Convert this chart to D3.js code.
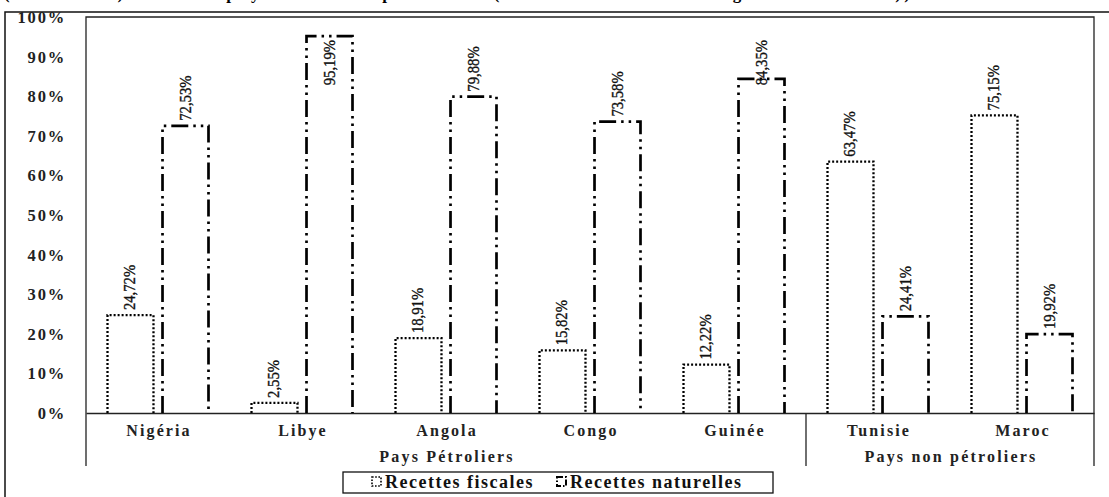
<!DOCTYPE html>
<html lang="fr">
<head>
<meta charset="utf-8">
<script src="https://cdn.jsdelivr.net/npm/d3@7/dist/d3.min.js"></script>
<style>
  html, body { margin: 0; padding: 0; background: #fff; }
  svg { display: block; }
  .serif { font-family: "Liberation Serif", "Times New Roman", serif; }
</style>
</head>
<body>
<div id="chart"></div>
<script>
// Données : part des recettes fiscales et des recettes naturelles (en %)
const categories = ["Nigéria", "Libye", "Angola", "Congo", "Guinée", "Tunisie", "Maroc"];
const groupNames = ["Pays Pétroliers", "Pays non pétroliers"];
const groupOfCategory = [0, 0, 0, 0, 0, 1, 1];
const seriesNames = ["Recettes fiscales", "Recettes naturelles"];
const recettesFiscales = [24.72, 2.55, 18.91, 15.82, 12.22, 63.47, 75.15];
const recettesNaturelles = [72.53, 95.19, 79.88, 73.58, 84.35, 24.41, 19.92];
const yTicks = [0, 10, 20, 30, 40, 50, 60, 70, 80, 90, 100];
const titleText = "(2000-2019) dans les pays africains pétroliers (en % des recettes budgétaires totales))";

const W = 1109, H = 497;
const plot = { left: 86, right: 1094, top: 17, bottom: 413, groupBottom: 466 };

const svg = d3.select("#chart").append("svg")
  .attr("width", W).attr("height", H)
  .attr("viewBox", `0 0 ${W} ${H}`);

svg.append("rect").attr("width", W).attr("height", H).attr("fill", "#fff");

// Titre (coupé par le bord supérieur)
svg.append("text").attr("class", "serif")
  .attr("x", 4).attr("y", -1.5)
  .attr("font-size", 17).attr("font-weight", "bold")
  .attr("textLength", 906).attr("lengthAdjust", "spacing")
  .text(titleText);

// Cadre extérieur
svg.append("path")
  .attr("d", `M5,${H} V12 H${W}`)
  .attr("fill", "none").attr("stroke", "#111").attr("stroke-width", 1.5);

// Échelles
const x = d3.scaleBand().domain(categories).range([plot.left, plot.right]);
const xs = d3.scaleBand().domain(seriesNames)
  .range([21.5, x.bandwidth() - 21.5]).paddingInner(0.164);
const y = d3.scaleLinear().domain([0, 100]).range([plot.bottom, plot.top]);

// Cadre de la zone de tracé
svg.append("path")
  .attr("d", `M${plot.left},${plot.groupBottom} V${plot.top} H${plot.right} V${plot.groupBottom}`)
  .attr("fill", "none").attr("stroke", "#222").attr("stroke-width", 1.3);

// Axe vertical
const fmtPct = d => d + "%";
const yAxis = svg.append("g")
  .attr("transform", `translate(${plot.left - 20},0)`)
  .call(d3.axisLeft(y).tickValues(yTicks).tickFormat(fmtPct).tickSize(0).tickPadding(0));
yAxis.select(".domain").remove();
yAxis.selectAll("text")
  .attr("class", "serif")
  .attr("font-size", 16.5).attr("font-weight", "bold")
  .attr("letter-spacing", "1.8px")
  .attr("fill", "#222")
  .attr("dy", "0.33em");

// Axe horizontal et étiquettes de catégories
const xAxis = svg.append("g")
  .attr("transform", `translate(0,${plot.bottom})`)
  .call(d3.axisBottom(x).tickSize(0).tickSizeOuter(0).tickPadding(0));
xAxis.select(".domain").attr("stroke", "#222").attr("stroke-width", 1.3);
xAxis.selectAll("text")
  .attr("class", "serif")
  .attr("font-size", 16).attr("font-weight", "bold")
  .attr("letter-spacing", "2.1px")
  .attr("fill", "#222")
  .attr("y", 23).attr("dy", 0)
  .attr("dx", "1px");

// Séparateurs et libellés des groupes de pays
groupNames.forEach((name, g) => {
  const members = categories.filter((c, i) => groupOfCategory[i] === g);
  const x0 = x(members[0]);
  const x1 = x(members[members.length - 1]) + x.bandwidth();
  if (g > 0) {
    svg.append("line")
      .attr("x1", x0).attr("x2", x0)
      .attr("y1", plot.bottom).attr("y2", plot.groupBottom)
      .attr("stroke", "#222").attr("stroke-width", 1.3);
  }
  svg.append("text").attr("class", "serif")
    .attr("x", (x0 + x1) / 2 + 1).attr("y", 462)
    .attr("text-anchor", "middle")
    .attr("font-size", 16).attr("font-weight", "bold")
    .attr("letter-spacing", "2.2px").attr("fill", "#222")
    .text(name);
});

// Styles des séries
const seriesStyle = {
  "Recettes fiscales": { dash: "2,2", width: 2.3 },
  "Recettes naturelles": { dash: "17,5,2.5,5,2.5,5", width: 2.7 }
};

const rows = categories.map((c, i) => ({
  category: c,
  values: [
    { series: seriesNames[0], value: recettesFiscales[i] },
    { series: seriesNames[1], value: recettesNaturelles[i] }
  ]
}));

const groups = svg.append("g").selectAll("g")
  .data(rows).join("g")
  .attr("transform", d => `translate(${x(d.category)},0)`);

// Barres : contour seul, ouvertes sur l'axe
groups.selectAll("path.bar")
  .data(d => d.values).join("path")
  .attr("class", "bar")
  .attr("d", d => {
    const p = d3.path();
    const x0 = xs(d.series), x1 = x0 + xs.bandwidth();
    p.moveTo(x0, y(0));
    p.lineTo(x0, y(d.value));
    p.lineTo(x1, y(d.value));
    p.lineTo(x1, y(0));
    return p.toString();
  })
  .attr("fill", "none")
  .attr("stroke", "#000")
  .attr("stroke-width", d => seriesStyle[d.series].width)
  .attr("stroke-dasharray", d => seriesStyle[d.series].dash);

// Étiquettes de valeurs (verticales)
const fmtVal = d => d3.format(".2f")(d).replace(".", ",") + "%";
const squeeze = 0.84;
groups.selectAll("text.val")
  .data(d => d.values).join("text")
  .attr("class", "val serif")
  .attr("font-size", 17.5)
  .attr("fill", "#111")
  .attr("stroke", "#111").attr("stroke-width", 0.35)
  .text(d => fmtVal(d.value))
  .each(function (d) {
    const len = this.getComputedTextLength() * squeeze;
    let end = y(d.value) - 5;
    let start = end - len;
    if (start < 40) { start = 40; end = start + len; }
    const bx = xs(d.series) + xs.bandwidth() / 2 + 5;
    d3.select(this).attr("transform", `translate(${bx},${end}) rotate(-90) scale(${squeeze},1)`);
  });

// Légende
const legend = svg.append("g");
legend.append("rect")
  .attr("x", 343).attr("y", 472).attr("width", 430).attr("height", 21)
  .attr("fill", "#fff").attr("stroke", "#111").attr("stroke-width", 1.3);
const legendPos = [372, 557];
seriesNames.forEach((s, i) => {
  const lx = legendPos[i];
  legend.append("rect")
    .attr("x", lx).attr("y", 477).attr("width", 9).attr("height", 9)
    .attr("fill", "none").attr("stroke", "#000")
    .attr("stroke-width", i === 0 ? 1.6 : 2)
    .attr("stroke-dasharray", i === 0 ? "1.6,1.6" : "6,2,1.5,2");
  legend.append("text").attr("class", "serif")
    .attr("x", lx + 13).attr("y", 488)
    .attr("font-size", 18).attr("font-weight", "bold")
    .attr("letter-spacing", "1.5px").attr("fill", "#111")
    .text(s);
});
</script>
</body>
</html>
